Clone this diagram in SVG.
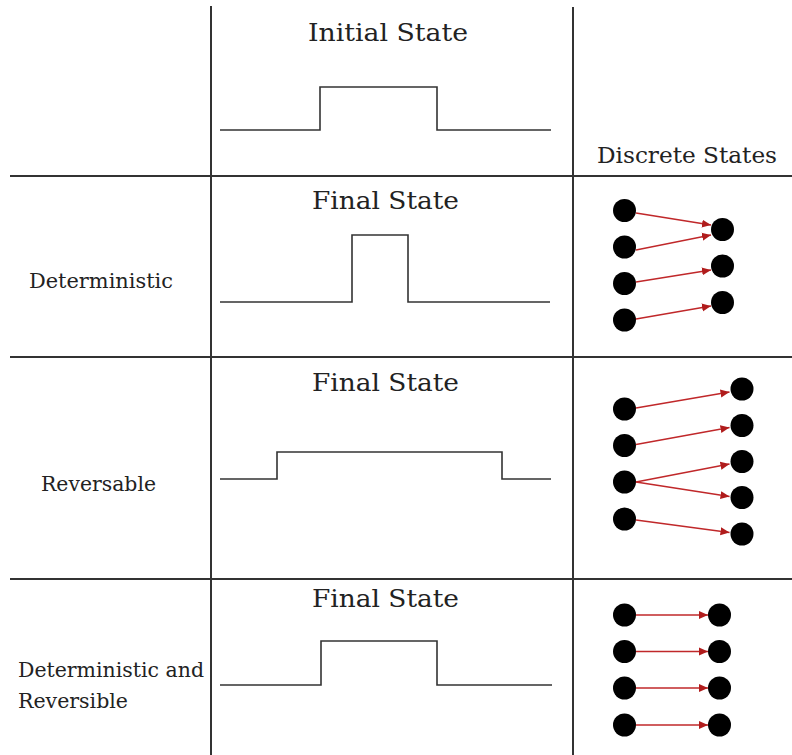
<svg xmlns="http://www.w3.org/2000/svg" width="792" height="755" viewBox="0 0 792 755">
  <style>
    .grid { stroke: #333; stroke-width: 2; fill: none; }
    .pulse { stroke: #333; stroke-width: 1.6; fill: none; }
    .head { font-family: "DejaVu Serif", "Liberation Serif", serif; font-size: 25px; fill: #222; }
    .label { font-family: "DejaVu Serif", "Liberation Serif", serif; font-size: 20.5px; fill: #222; }
    .dot { fill: #000; }
    .arrow { stroke: #c0282a; stroke-width: 1.5; fill: none; marker-end: url(#tip); }
  </style>
  <defs>
    <marker id="tip" markerUnits="userSpaceOnUse" markerWidth="10" markerHeight="10" refX="9" refY="5" orient="auto">
      <path d="M0,1 L9,5 L0,9 Z" fill="#b01c1c"/>
    </marker>
  </defs>
  <rect width="792" height="755" fill="#fff"/>

  <!-- table grid -->
  <g id="grid">
    <line class="grid" x1="211" y1="6" x2="211" y2="755"/>
    <line class="grid" x1="573" y1="7" x2="573" y2="755"/>
    <line class="grid" x1="10" y1="176" x2="792" y2="176"/>
    <line class="grid" x1="10" y1="357" x2="792" y2="357"/>
    <line class="grid" x1="10" y1="579" x2="792" y2="579"/>
  </g>

  <!-- row labels -->
  <g id="row-labels">
    <text class="label" x="29" y="288" textLength="144" lengthAdjust="spacingAndGlyphs">Deterministic</text>
    <text class="label" x="41" y="491" textLength="115" lengthAdjust="spacingAndGlyphs">Reversable</text>
    <text class="label" x="18" y="677" textLength="186" lengthAdjust="spacingAndGlyphs">Deterministic and</text>
    <text class="label" x="18" y="708" textLength="110" lengthAdjust="spacingAndGlyphs">Reversible</text>
  </g>

  <!-- waveform column -->
  <g id="initial-state">
    <text class="head" x="308" y="41" textLength="160" lengthAdjust="spacingAndGlyphs">Initial State</text>
    <polyline class="pulse" points="220,130 320,130 320,87 437,87 437,130 551,130"/>
  </g>
  <g id="final-deterministic">
    <text class="head" x="312" y="209" textLength="147" lengthAdjust="spacingAndGlyphs">Final State</text>
    <polyline class="pulse" points="220,302 352,302 352,235 408,235 408,302 550,302"/>
  </g>
  <g id="final-reversable">
    <text class="head" x="312" y="391" textLength="147" lengthAdjust="spacingAndGlyphs">Final State</text>
    <polyline class="pulse" points="220,479 277,479 277,452 502,452 502,479 551,479"/>
  </g>
  <g id="final-both">
    <text class="head" x="312" y="607" textLength="147" lengthAdjust="spacingAndGlyphs">Final State</text>
    <polyline class="pulse" points="220,685 321,685 321,641 437,641 437,685 552,685"/>
  </g>

  <!-- discrete states column -->
  <g id="discrete-title">
    <text class="head" x="597" y="163" textLength="180" lengthAdjust="spacingAndGlyphs" style="font-size:23px">Discrete States</text>
  </g>

  <g id="states-deterministic">
    <circle class="dot" cx="624.5" cy="210.5" r="11.5"/>
    <circle class="dot" cx="624.5" cy="247" r="11.5"/>
    <circle class="dot" cx="624.5" cy="283.5" r="11.5"/>
    <circle class="dot" cx="624.5" cy="320" r="11.5"/>
    <circle class="dot" cx="722.5" cy="229.5" r="11.5"/>
    <circle class="dot" cx="722.5" cy="266" r="11.5"/>
    <circle class="dot" cx="722.5" cy="302.5" r="11.5"/>
  </g>
  <g id="states-reversable">
    <circle class="dot" cx="624.5" cy="409" r="11.5"/>
    <circle class="dot" cx="624.5" cy="445.5" r="11.5"/>
    <circle class="dot" cx="624.5" cy="482" r="11.5"/>
    <circle class="dot" cx="624.5" cy="519" r="11.5"/>
    <circle class="dot" cx="742" cy="389" r="11.5"/>
    <circle class="dot" cx="742" cy="425.5" r="11.5"/>
    <circle class="dot" cx="742" cy="461.5" r="11.5"/>
    <circle class="dot" cx="742" cy="497.5" r="11.5"/>
    <circle class="dot" cx="742" cy="534" r="11.5"/>
  </g>
  <g id="states-both">
    <circle class="dot" cx="624.5" cy="615" r="11.5"/>
    <circle class="dot" cx="624.5" cy="651.5" r="11.5"/>
    <circle class="dot" cx="624.5" cy="688" r="11.5"/>
    <circle class="dot" cx="624.5" cy="725" r="11.5"/>
    <circle class="dot" cx="719.5" cy="615" r="11.5"/>
    <circle class="dot" cx="719.5" cy="651.5" r="11.5"/>
    <circle class="dot" cx="719.5" cy="688" r="11.5"/>
    <circle class="dot" cx="719.5" cy="725" r="11.5"/>
  </g>

  <!-- state transitions -->
  <g id="connectors">
    <line class="arrow" x1="636" y1="213" x2="711" y2="225"/>
    <line class="arrow" x1="636" y1="250" x2="711" y2="235"/>
    <line class="arrow" x1="636" y1="282" x2="711" y2="270"/>
    <line class="arrow" x1="636" y1="319" x2="711" y2="306"/>

    <line class="arrow" x1="636" y1="408" x2="729.5" y2="392"/>
    <line class="arrow" x1="636" y1="444.5" x2="729.5" y2="427.5"/>
    <line class="arrow" x1="636" y1="482" x2="729.5" y2="464"/>
    <line class="arrow" x1="636" y1="482" x2="729.5" y2="496.5"/>
    <line class="arrow" x1="636" y1="520" x2="729.5" y2="532.5"/>

    <line class="arrow" x1="636" y1="615" x2="708" y2="615"/>
    <line class="arrow" x1="636" y1="651.5" x2="708" y2="651.5"/>
    <line class="arrow" x1="636" y1="688" x2="708" y2="688"/>
    <line class="arrow" x1="636" y1="725" x2="708" y2="725"/>
  </g>
</svg>
